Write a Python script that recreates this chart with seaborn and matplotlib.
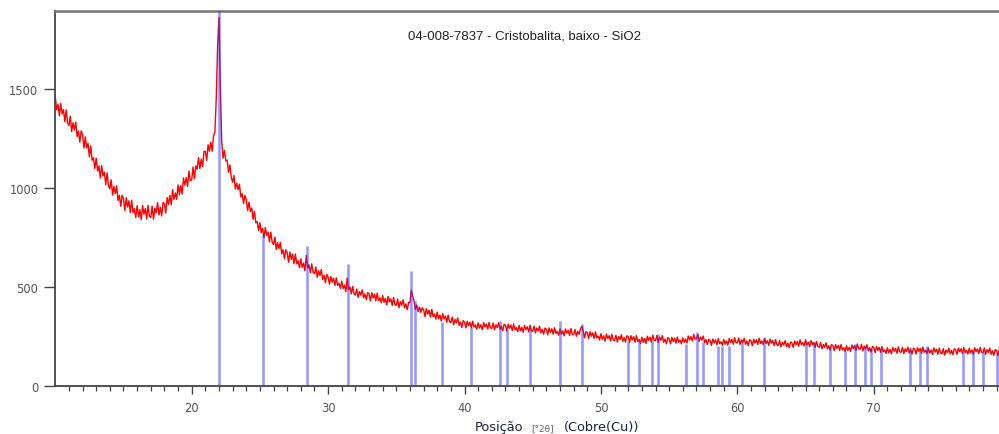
import numpy as np
import pandas as pd
import matplotlib
matplotlib.use("Agg")
import matplotlib.pyplot as plt
import seaborn as sns

# ---- data ----
scan_start = 10.0   # first 2theta of the scan
scan_step = 0.1     # scan step (degrees 2theta)
intensity = [
    1460, 1395, 1423, 1364, 1427, 1374, 1395, 1334, 1394, 1329,   # 10
    1315, 1362, 1284, 1329, 1293, 1333, 1259, 1287, 1231, 1288,   # 11
    1270, 1201, 1258, 1202, 1226, 1157, 1212, 1140, 1152, 1098,   # 12
    1150, 1085, 1111, 1050, 1113, 1060, 1079, 1016, 1076, 1011,   # 13
    995, 1041, 963, 1007, 971, 1010, 936, 963, 907, 963,          # 14
    945, 885, 950, 903, 935, 875, 938, 875, 895, 850,             # 15
    910, 854, 890, 839, 911, 867, 896, 843, 912, 856,             # 16
    850, 908, 842, 898, 874, 925, 863, 902, 858, 926,             # 17
    920, 873, 951, 917, 962, 915, 991, 941, 974, 942,             # 18
    1015, 967, 1012, 969, 1050, 1014, 1052, 1007, 1085, 1037,     # 19
    1040, 1106, 1047, 1111, 1094, 1153, 1098, 1145, 1108, 1184,   # 20
    1185, 1139, 1218, 1185, 1231, 1185, 1263, 1280, 1450, 1720,   # 21
    1862, 1520, 1235, 1150, 1189, 1136, 1141, 1079, 1116, 1053,   # 22
    1029, 1062, 994, 1024, 991, 1018, 954, 971, 921, 962,         # 23
    942, 885, 928, 881, 898, 841, 882, 823, 830, 785,             # 24
    824, 773, 796, 749, 800, 759, 776, 727, 776, 725,             # 25
    714, 751, 688, 723, 694, 725, 666, 687, 642, 687,             # 26
    672, 624, 676, 638, 664, 616, 666, 616, 632, 596,             # 27
    641, 598, 620, 581, 659, 594, 611, 571, 616, 574,             # 28
    566, 600, 548, 581, 557, 587, 536, 558, 520, 562,             # 29
    549, 513, 552, 524, 543, 507, 545, 507, 519, 492,             # 30
    528, 491, 509, 475, 545, 485, 499, 464, 502, 465,             # 31
    458, 489, 446, 476, 458, 485, 444, 464, 434, 471,             # 32
    464, 429, 470, 443, 463, 429, 468, 431, 444, 419,             # 33
    456, 421, 441, 409, 451, 423, 439, 406, 446, 411,             # 34
    406, 438, 394, 425, 407, 434, 393, 414, 384, 421,             # 35
    420, 482, 452, 428, 386, 408, 375, 398, 371, 394,             # 36
    384, 349, 389, 362, 382, 347, 386, 349, 362, 336,             # 37
    372, 338, 357, 327, 364, 338, 352, 321, 357, 324,             # 38
    319, 347, 308, 335, 317, 343, 305, 322, 294, 329,             # 39
    321, 292, 326, 304, 321, 293, 326, 296, 307, 286,             # 40
    318, 291, 308, 283, 319, 297, 312, 286, 320, 292,             # 41
    290, 317, 283, 308, 294, 318, 285, 302, 278, 310,             # 42
    306, 277, 311, 290, 307, 279, 312, 282, 294, 273,             # 43
    305, 278, 295, 270, 305, 284, 298, 272, 306, 278,             # 44
    275, 301, 267, 292, 277, 301, 267, 285, 260, 291,             # 45
    286, 257, 292, 270, 288, 260, 293, 264, 275, 255,             # 46
    287, 260, 277, 252, 287, 266, 281, 254, 289, 260,             # 47
    258, 284, 250, 275, 260, 289, 299, 278, 242, 273,             # 48
    268, 239, 273, 250, 267, 239, 272, 242, 251, 231,             # 49
    263, 235, 252, 226, 261, 239, 253, 226, 260, 231,             # 50
    228, 255, 221, 248, 234, 258, 225, 243, 220, 252,             # 51
    248, 219, 253, 231, 248, 220, 253, 223, 234, 213,             # 52
    245, 219, 238, 213, 250, 230, 245, 220, 256, 229,             # 53
    228, 254, 219, 245, 230, 253, 219, 236, 212, 243,             # 54
    237, 212, 244, 224, 240, 215, 246, 220, 230, 212,             # 55
    242, 219, 236, 216, 251, 232, 248, 226, 260, 236,             # 56
    236, 259, 224, 246, 231, 251, 218, 233, 209, 235,             # 57
    229, 204, 236, 216, 232, 207, 238, 212, 222, 204,             # 58
    234, 210, 226, 205, 238, 219, 234, 210, 243, 218,             # 59
    217, 241, 209, 232, 219, 240, 209, 226, 203, 232,             # 60
    227, 202, 235, 216, 233, 208, 240, 214, 226, 208,             # 61
    239, 213, 228, 204, 236, 215, 228, 203, 233, 207,             # 62
    203, 228, 196, 219, 206, 228, 198, 215, 192, 221,             # 63
    217, 193, 226, 207, 224, 200, 232, 207, 218, 201,             # 64
    232, 206, 220, 197, 228, 207, 219, 194, 224, 198,             # 65
    194, 218, 186, 209, 195, 217, 186, 202, 180, 208,             # 66
    203, 177, 208, 189, 204, 178, 208, 181, 192, 173,             # 67
    202, 178, 194, 173, 206, 187, 202, 178, 211, 186,             # 68
    185, 209, 176, 200, 186, 207, 176, 192, 170, 198,             # 69
    193, 167, 198, 179, 194, 168, 198, 171, 182, 163,             # 70
    192, 167, 183, 161, 194, 174, 188, 164, 196, 171,             # 71
    169, 194, 162, 186, 173, 195, 165, 182, 160, 189,             # 72
    185, 160, 192, 173, 189, 164, 195, 169, 180, 162,             # 73
    191, 165, 181, 158, 191, 170, 184, 159, 190, 165,             # 74
    161, 187, 155, 180, 167, 190, 161, 178, 157, 186,             # 75
    183, 158, 190, 171, 187, 162, 193, 167, 178, 160,             # 76
    190, 165, 181, 159, 192, 172, 186, 162, 194, 169,             # 77
    166, 191, 158, 182, 168, 190, 159, 176, 153, 182,             # 78
    177, 152, 184,                                                # 79
]

# reference pattern 04-008-7837 (Cristobalita, baixo) stick positions / heights
ref_pos = [21.98, 25.24, 28.44, 31.44, 36.08, 36.39, 38.37, 40.48, 42.62, 43.14,
           44.82, 47.02, 48.59, 51.96, 52.82, 53.72, 54.16, 56.22, 57.05, 57.46,
           58.61, 58.86, 59.41, 60.32, 61.96, 65.06, 65.64, 66.82, 67.87, 68.63,
           69.39, 69.79, 70.54, 72.67, 73.42, 73.91, 76.57, 77.28, 77.99, 79.05]
ref_int = [1900, 767, 708, 615, 581, 430, 320, 295, 329, 287,
           295, 329, 312, 228, 228, 228, 261, 211, 270, 219,
           202, 202, 202, 228, 240, 219, 219, 202, 177, 211,
           194, 186, 186, 194, 177, 202, 169, 177, 169, 165]

x_major_ticks = [20, 30, 40, 50, 60, 70]
y_ticks = [0, 500, 1000, 1500]
pattern_label = "04-008-7837 - Cristobalita, baixo - SiO2"

# ---- figure ----
sns.set_style("white")
plt.rcParams["font.family"] = ["DejaVu Sans"]

fig = plt.figure(figsize=(9.99, 4.35), dpi=100)
ax = fig.add_axes([55 / 999, 1 - 386.7 / 435, 1 - 55 / 999, (386.7 - 12) / 435])

df = pd.DataFrame({
    "two_theta": scan_start + scan_step * np.arange(len(intensity)),
    "counts": intensity,
})
sns.lineplot(data=df, x="two_theta", y="counts", ax=ax, color="#ff0000",
             linewidth=1.0, zorder=2)

ax.vlines(ref_pos, 0, ref_int, colors="#3333ff", linewidth=1.9, alpha=0.5, zorder=3)

ax.set_xlim(9.98, 79.18)
ax.set_ylim(0, 1894)

ax.set_xticks(x_major_ticks)
ax.set_xticks(np.arange(11, 80, 1), minor=True)
ax.set_yticks(y_ticks)
ax.tick_params(axis="x", which="major", direction="out", length=6, width=1.0,
               color="#444444", labelsize=8.3, labelcolor="#555555", pad=5, bottom=True)
ax.tick_params(axis="x", which="minor", direction="out", length=3.5, width=0.9,
               color="#444444", bottom=True)
ax.tick_params(axis="y", which="major", direction="out", length=8, width=1.0,
               color="#444444", labelsize=8.3, labelcolor="#555555", pad=4, left=True)

for side in ["left", "bottom"]:
    ax.spines[side].set_color("#444444")
    ax.spines[side].set_linewidth(1.3)
ax.spines["top"].set_color("#777777")
ax.spines["top"].set_linewidth(1.8)
ax.spines["right"].set_visible(False)

ax.set_xlabel("")
ax.set_ylabel("")

ax.text(0.497, 0.935, pattern_label, transform=ax.transAxes, ha="center", va="center",
        fontsize=9.5, color="#222222", family=["Liberation Sans", "DejaVu Sans"])

fig.text(475 / 999, 1 - 428 / 435, "Posição", ha="left", va="center",
         fontsize=9.3, color="#1e1e46")
fig.text(531 / 999, 1 - 429 / 435, "[°2θ]", ha="left", va="center",
         fontsize=6.5, color="#666666")
fig.text(564 / 999, 1 - 428 / 435, "(Cobre(Cu))", ha="left", va="center",
         fontsize=9.3, color="#1e1e46")

fig.savefig("out.png", dpi=100)
